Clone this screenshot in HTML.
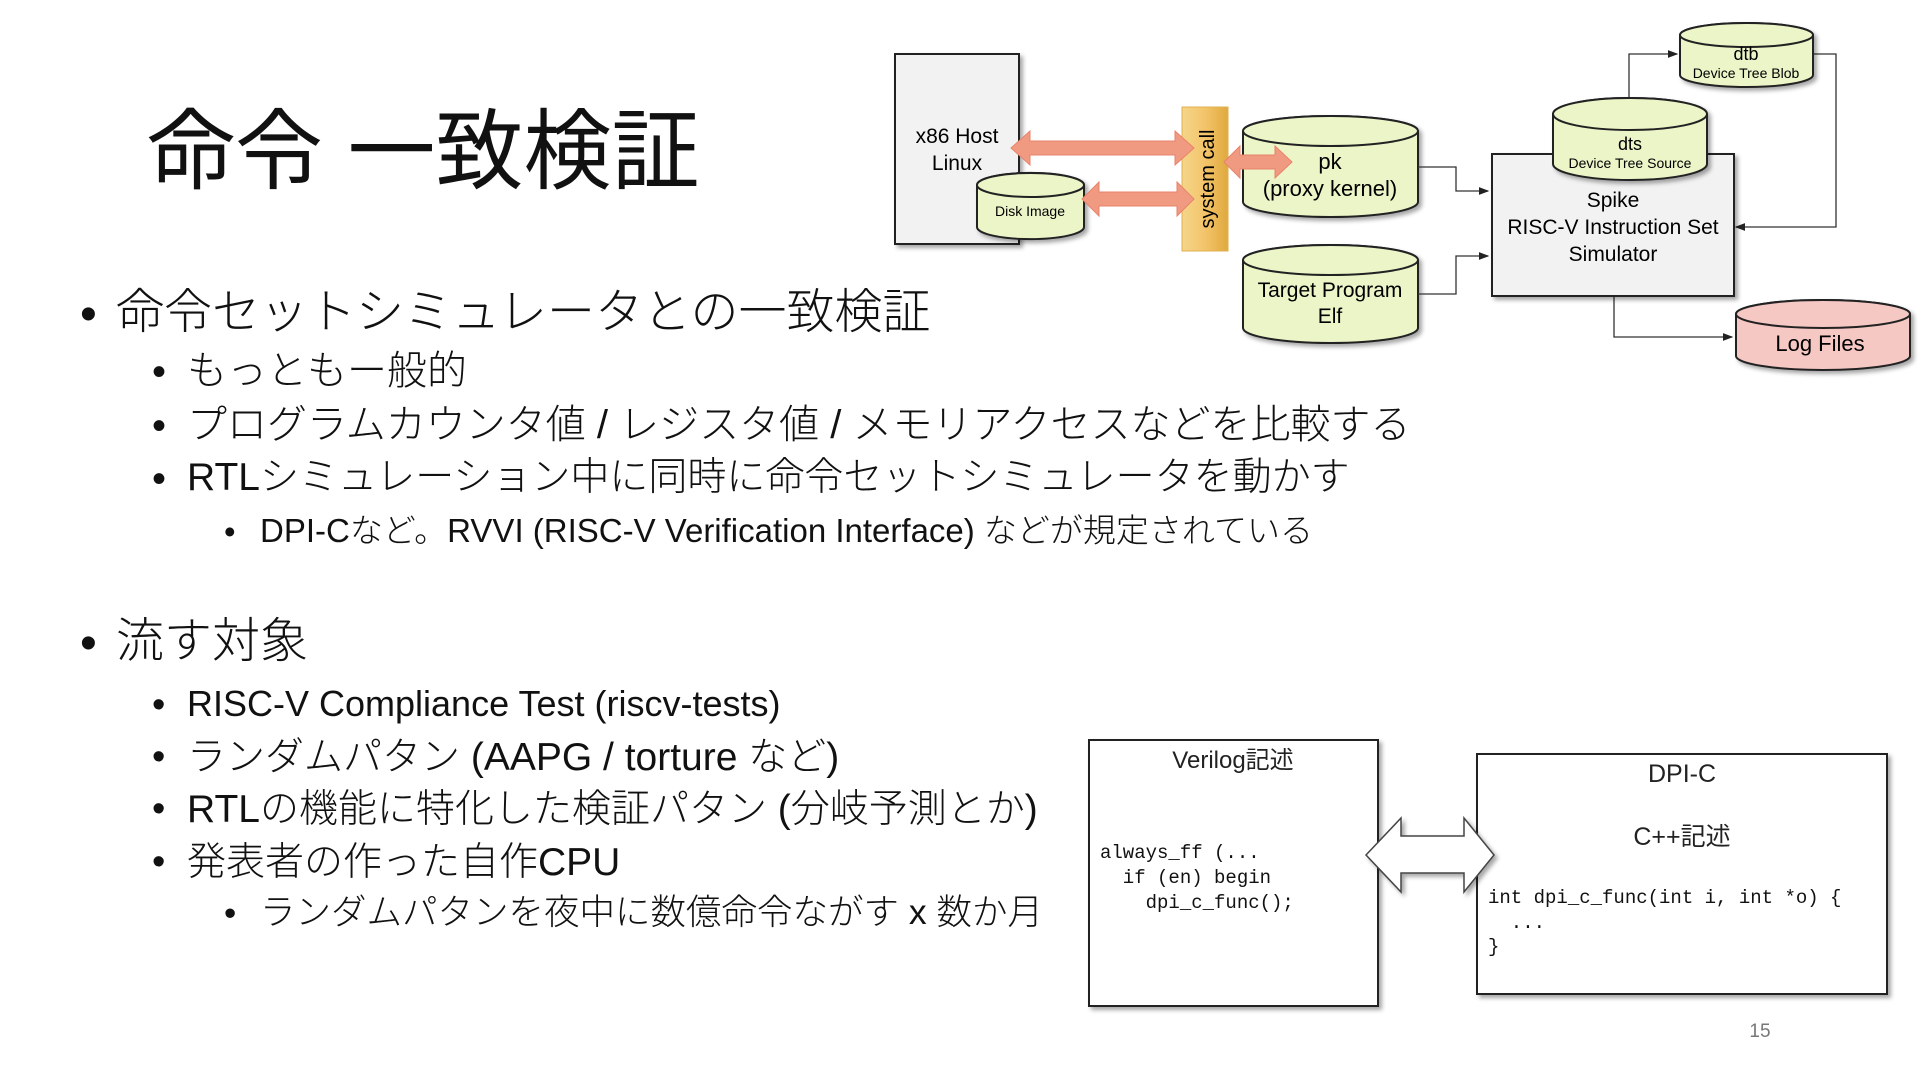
<!DOCTYPE html>
<html><head><meta charset="utf-8"><style>
html,body{margin:0;padding:0;background:#fff;}
body{width:1920px;height:1080px;position:relative;overflow:hidden;font-family:"Liberation Sans","Noto Sans CJK JP",sans-serif;color:#111;}
.t{position:absolute;white-space:nowrap;font-weight:300;line-height:1;}
svg{position:absolute;left:0;top:0;}
.pre{white-space:pre;}
</style></head><body>
<div class="t" style="left:147px;top:108px;font-size:88px;font-weight:400;">命令 一致検証</div>

<div class="t" style="left:80px;top:291px;font-size:48px;">•</div>
<div class="t" style="left:116px;top:289px;font-size:48px;">命令セットシミュレータとの一致検証</div>
<div class="t" style="left:152px;top:352px;font-size:40px;">•</div>
<div class="t" style="left:187px;top:351px;font-size:40px;">もっともー般的</div>
<div class="t" style="left:152px;top:406px;font-size:40px;">•</div>
<div class="t" style="left:187px;top:405px;font-size:40px;">プログラムカウンタ値 / レジスタ値 / メモリアクセスなどを比較する</div>
<div class="t" style="left:152px;top:459px;font-size:40px;">•</div>
<div class="t" style="left:187px;top:458px;font-size:39px;">RTLシミュレーション中に同時に命令セットシミュレータを動かす</div>
<div class="t" style="left:224px;top:515px;font-size:33px;">•</div>
<div class="t" style="left:260px;top:514px;font-size:33px;">DPI-Cなど。RVVI (RISC-V Verification Interface) などが規定されている</div>

<div class="t" style="left:80px;top:620px;font-size:48px;">•</div>
<div class="t" style="left:116px;top:618px;font-size:48px;">流す対象</div>
<div class="t" style="left:152px;top:686px;font-size:38px;">•</div>
<div class="t" style="left:187px;top:686px;font-size:36px;">RISC-V Compliance Test (riscv-tests)</div>
<div class="t" style="left:152px;top:738px;font-size:38px;">•</div>
<div class="t" style="left:187px;top:738px;font-size:39px;">ランダムパタン (AAPG / torture など)</div>
<div class="t" style="left:152px;top:790px;font-size:38px;">•</div>
<div class="t" style="left:187px;top:790px;font-size:39px;">RTLの機能に特化した検証パタン (分岐予測とか)</div>
<div class="t" style="left:152px;top:843px;font-size:38px;">•</div>
<div class="t" style="left:187px;top:843px;font-size:39px;">発表者の作った自作CPU</div>
<div class="t" style="left:224px;top:896px;font-size:35px;">•</div>
<div class="t" style="left:260px;top:895px;font-size:35.5px;">ランダムパタンを夜中に数億命令ながす x 数か月</div>

<svg width="1920" height="1080" viewBox="0 0 1920 1080" font-family="Liberation Sans, Noto Sans CJK JP, sans-serif">
<defs>
<filter id="sh" x="-10%" y="-10%" width="130%" height="130%"><feDropShadow dx="3" dy="3" stdDeviation="2" flood-color="#000" flood-opacity="0.35"/></filter>
<linearGradient id="bar" x1="0" x2="1"><stop offset="0" stop-color="#f5d58a"/><stop offset="0.5" stop-color="#f3c46a"/><stop offset="1" stop-color="#e0a93e"/></linearGradient>
<marker id="ah" markerWidth="8" markerHeight="8" refX="7" refY="4" orient="auto"><path d="M0,1 L8,4 L0,7 Z" fill="#222"/></marker>
</defs>

<rect x="895" y="54" width="124" height="190" fill="#f2f2f2" stroke="#222" stroke-width="2" filter="url(#sh)"/>
<text x="957" y="143" font-size="21" text-anchor="middle">x86 Host</text>
<text x="957" y="170" font-size="21" text-anchor="middle">Linux</text>
<g filter="url(#sh)">
<path d="M977,185 A53,12 0 0 1 1084,185 V227 A53,12 0 0 1 977,227 Z" fill="#ebf5c8" stroke="#222" stroke-width="2"/>
<ellipse cx="1030.5" cy="185" rx="53.5" ry="12" fill="#ebf5c8" stroke="#222" stroke-width="2"/>
</g>
<text x="1030" y="216" font-size="14" text-anchor="middle">Disk Image</text>

<rect x="1182" y="107" width="46" height="144" fill="url(#bar)" stroke="#e0b050" stroke-width="1"/>
<text transform="translate(1214,179) rotate(-90)" font-size="20" text-anchor="middle">system call</text>

<g filter="url(#sh)">
<path d="M1243,131 A87.5,15 0 0 1 1418,131 V202 A87.5,15 0 0 1 1243,202 Z" fill="#ebf5c8" stroke="#222" stroke-width="2"/>
<ellipse cx="1330.5" cy="131" rx="87.5" ry="15" fill="#ebf5c8" stroke="#222" stroke-width="2"/>
</g>
<text x="1330" y="169" font-size="22" text-anchor="middle">pk</text>
<text x="1330" y="196" font-size="22" text-anchor="middle">(proxy kernel)</text>

<g filter="url(#sh)">
<path d="M1243,260 A87.5,15 0 0 1 1418,260 V328 A87.5,15 0 0 1 1243,328 Z" fill="#ebf5c8" stroke="#222" stroke-width="2"/>
<ellipse cx="1330.5" cy="260" rx="87.5" ry="15" fill="#ebf5c8" stroke="#222" stroke-width="2"/>
</g>
<text x="1330" y="297" font-size="21" text-anchor="middle">Target Program</text>
<text x="1330" y="323" font-size="21" text-anchor="middle">Elf</text>

<g fill="#f09a82" stroke="#e8836a" stroke-width="1">
<polygon points="1011,148 1030,131 1030,141 1175,141 1175,131 1194,148 1175,165 1175,155 1030,155 1030,165"/>
<polygon points="1082,199 1099,182 1099,192 1177,192 1177,182 1194,199 1177,216 1177,206 1099,206 1099,216"/>
<polygon points="1224,162 1240,146 1240,155 1275,155 1275,146 1292,162 1275,178 1275,169 1240,169 1240,178"/>
</g>

<g fill="none" stroke="#333" stroke-width="1.3">
<polyline points="1418,167 1456,167 1456,191 1488,191" marker-end="url(#ah)"/>
<polyline points="1418,294 1456,294 1456,256 1488,256" marker-end="url(#ah)"/>
<polyline points="1629,100 1629,54 1677,54" marker-end="url(#ah)"/>
<polyline points="1812,54 1836,54 1836,227 1736,227" marker-end="url(#ah)"/>
<polyline points="1614,296 1614,337 1732,337" marker-end="url(#ah)"/>
</g>

<rect x="1492" y="154" width="242" height="142" fill="#f2f2f2" stroke="#222" stroke-width="2" filter="url(#sh)"/>
<text x="1613" y="207" font-size="21" text-anchor="middle">Spike</text>
<text x="1613" y="234" font-size="21" text-anchor="middle">RISC-V Instruction Set</text>
<text x="1613" y="261" font-size="21" text-anchor="middle">Simulator</text>

<g filter="url(#sh)">
<path d="M1553,114 A77,16 0 0 1 1707,114 V164 A77,16 0 0 1 1553,164 Z" fill="#ebf5c8" stroke="#222" stroke-width="2"/>
<ellipse cx="1630" cy="114" rx="77" ry="16" fill="#ebf5c8" stroke="#222" stroke-width="2"/>
</g>
<text x="1630" y="150" font-size="18" text-anchor="middle">dts</text>
<text x="1630" y="168" font-size="14" text-anchor="middle">Device Tree Source</text>

<g filter="url(#sh)">
<path d="M1680,35 A66.5,12 0 0 1 1813,35 V75 A66.5,12 0 0 1 1680,75 Z" fill="#ebf5c8" stroke="#222" stroke-width="2"/>
<ellipse cx="1746.5" cy="35" rx="66.5" ry="12" fill="#ebf5c8" stroke="#222" stroke-width="2"/>
</g>
<text x="1746" y="60" font-size="18" text-anchor="middle">dtb</text>
<text x="1746" y="78" font-size="14" text-anchor="middle">Device Tree Blob</text>

<g filter="url(#sh)">
<path d="M1736,314 A87,14 0 0 1 1910,314 V356 A87,14 0 0 1 1736,356 Z" fill="#f5c8c4" stroke="#222" stroke-width="2"/>
<ellipse cx="1823" cy="314" rx="87" ry="14" fill="#f5c8c4" stroke="#222" stroke-width="2"/>
</g>
<text x="1820" y="351" font-size="22" text-anchor="middle">Log Files</text>

<rect x="1089" y="740" width="289" height="266" fill="#fff" stroke="#222" stroke-width="2" filter="url(#sh)"/>
<text x="1233" y="768" font-size="24" text-anchor="middle" fill="#222">Verilog記述</text>
<g font-family="Liberation Mono, monospace" font-size="19" fill="#111" class="pre" xml:space="preserve">
<text x="1100" y="858" class="pre">always_ff (...</text>
<text x="1100" y="883" class="pre">  if (en) begin</text>
<text x="1100" y="908" class="pre">    dpi_c_func();</text>
</g>

<rect x="1477" y="754" width="410" height="240" fill="#fff" stroke="#222" stroke-width="2" filter="url(#sh)"/>
<text x="1682" y="782" font-size="25" text-anchor="middle" fill="#222">DPI-C</text>
<text x="1682" y="845" font-size="25" text-anchor="middle" fill="#222">C++記述</text>
<g font-family="Liberation Mono, monospace" font-size="19" fill="#111" xml:space="preserve">
<text x="1488" y="903" class="pre">int dpi_c_func(int i, int *o) {</text>
<text x="1488" y="928" class="pre">  ...</text>
<text x="1488" y="952" class="pre">}</text>
</g>

<polygon points="1366,855 1401,818 1401,836 1464,836 1464,818 1494,855 1464,892 1464,873 1401,873 1401,892" fill="#fff" stroke="#444" stroke-width="1.5" filter="url(#sh)"/>

<text x="1760" y="1037" font-size="19" text-anchor="middle" fill="#777">15</text>
</svg>
</body></html>
